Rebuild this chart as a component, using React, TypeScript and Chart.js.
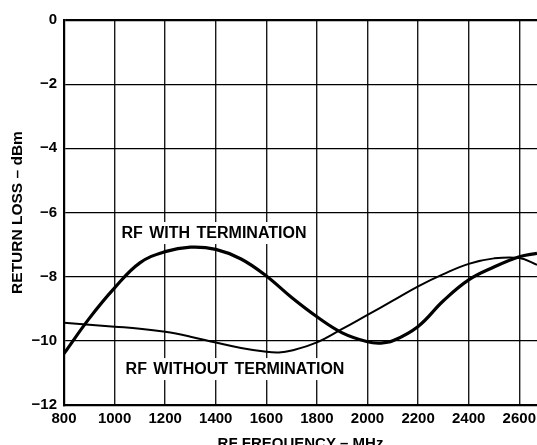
import React, { useEffect, useRef } from "react";
import { Chart, registerables } from "chart.js";

Chart.register(...registerables);

const FREQ_WITH = [800, 900, 1000, 1100, 1200, 1300, 1400, 1500, 1600, 1700, 1800, 1900, 2000, 2050, 2100, 2200, 2300, 2400, 2500, 2600, 2670];
const LOSS_WITH = [-10.4, -9.3, -8.35, -7.57, -7.22, -7.08, -7.15, -7.45, -7.98, -8.65, -9.25, -9.75, -10.03, -10.07, -10.0, -9.55, -8.75, -8.1, -7.7, -7.38, -7.27];

const FREQ_WITHOUT = [800, 900, 1000, 1100, 1200, 1300, 1400, 1500, 1600, 1650, 1700, 1800, 1900, 2000, 2100, 2200, 2300, 2400, 2500, 2600, 2670];
const LOSS_WITHOUT = [-9.44, -9.5, -9.56, -9.62, -9.72, -9.87, -10.05, -10.22, -10.34, -10.36, -10.3, -10.05, -9.63, -9.19, -8.75, -8.3, -7.92, -7.6, -7.43, -7.42, -7.63];

const X_TICKS = [800, 1000, 1200, 1400, 1600, 1800, 2000, 2200, 2400, 2600];
const Y_TICKS = [0, -2, -4, -6, -8, -10, -12];

const X_MIN = 800;
const X_MAX = 2670;
const Y_MIN = -12;
const Y_MAX = 0;

const X_TITLE = "RF FREQUENCY – MHz";
const Y_TITLE = "RETURN LOSS – dBm";

const LABELS = [
  { text: "RF WITH TERMINATION", x: 1393, y: -6.64 },
  { text: "RF WITHOUT TERMINATION", x: 1476, y: -10.88 },
];

const FONT_FAMILY = "'Liberation Sans', Arial, Helvetica, sans-serif";

const labelPlugin = {
  id: "curveLabels",
  beforeDatasetsDraw(chart: any) {
    const { ctx, scales } = chart;
    ctx.save();
    ctx.font = `bold 16px ${FONT_FAMILY}`;
    try {
      (ctx as any).wordSpacing = "2px";
    } catch (e) {}
    ctx.textAlign = "center";
    ctx.textBaseline = "middle";
    for (const l of LABELS) {
      const px = scales.x.getPixelForValue(l.x);
      const py = scales.y.getPixelForValue(l.y);
      const w = ctx.measureText(l.text).width;
      ctx.fillStyle = "#ffffff";
      ctx.fillRect(px - w / 2 - 4, py - 11, w + 8, 22);
      ctx.fillStyle = "#000000";
      ctx.fillText(l.text, px, py + 1);
    }
    ctx.restore();
  },
};

export default function App() {
  const ref = useRef<HTMLCanvasElement | null>(null);

  useEffect(() => {
    document.body.style.margin = "0";
    const canvas = ref.current;
    if (!canvas) return;
    const chart = new Chart(canvas, {
      type: "line",
      data: {
        datasets: [
          {
            label: "RF WITH TERMINATION",
            data: FREQ_WITH.map((f, i) => ({ x: f, y: LOSS_WITH[i] })),
            borderColor: "#000000",
            borderWidth: 3.2,
            pointRadius: 0,
            tension: 0.4,
            fill: false,
          },
          {
            label: "RF WITHOUT TERMINATION",
            data: FREQ_WITHOUT.map((f, i) => ({ x: f, y: LOSS_WITHOUT[i] })),
            borderColor: "#000000",
            borderWidth: 2,
            pointRadius: 0,
            tension: 0.4,
            fill: false,
          },
        ],
      },
      options: {
        animation: false,
        responsive: false,
        maintainAspectRatio: false,
        layout: { padding: { top: 20, left: 0, right: 0, bottom: 0 } },
        plugins: {
          legend: { display: false },
          tooltip: { enabled: false },
        },
        scales: {
          x: {
            type: "linear",
            min: X_MIN,
            max: X_MAX,
            afterBuildTicks: (scale: any) => {
              scale.ticks = X_TICKS.map((v) => ({ value: v }));
            },
            afterFit: (scale: any) => {
              scale.height = 40;
              scale.paddingRight = 0;
            },
            ticks: {
              autoSkip: false,
              maxRotation: 0,
              padding: 5,
              color: "#000000",
              font: { family: FONT_FAMILY, size: 15, weight: "bold" },
              callback: (v: any) => String(v),
            },
            grid: {
              color: "#1a1a1a",
              lineWidth: 1.4,
              drawTicks: false,
            },
            border: { display: true, color: "#000000", width: 2.2 },
            title: {
              display: true,
              text: X_TITLE,
              color: "#000000",
              font: { family: FONT_FAMILY, size: 15, weight: "bold", lineHeight: 1 },
              padding: { top: 0, bottom: -6 },
            },
          },
          y: {
            type: "linear",
            min: Y_MIN,
            max: Y_MAX,
            afterBuildTicks: (scale: any) => {
              scale.ticks = Y_TICKS.map((v) => ({ value: v }));
            },
            afterFit: (scale: any) => {
              scale.width = 64;
            },
            ticks: {
              padding: 7,
              color: "#000000",
              font: { family: FONT_FAMILY, size: 15, weight: "bold" },
              callback: (v: any) => (Number(v) === 0 ? "0" : "\u2212" + Math.abs(Number(v))),
            },
            grid: {
              color: "#000000",
              lineWidth: (ctx: any) => (ctx.tick && ctx.tick.value === 0 ? 2.2 : 1.2),
              drawTicks: false,
            },
            border: { display: true, color: "#000000", width: 2.2 },
            title: {
              display: true,
              text: Y_TITLE,
              color: "#000000",
              font: { family: FONT_FAMILY, size: 15.5, weight: "bold", lineHeight: 1 },
              padding: { top: 10, bottom: 0 },
            },
          },
        },
      },
      plugins: [labelPlugin],
    } as any);
    return () => chart.destroy();
  }, []);

  return (
    <div style={{ position: "absolute", left: 0, top: 0, width: 537, height: 445, background: "#ffffff" }}>
      <canvas ref={ref} width={537} height={445} style={{ width: 537, height: 445, display: "block" }} />
    </div>
  );
}
